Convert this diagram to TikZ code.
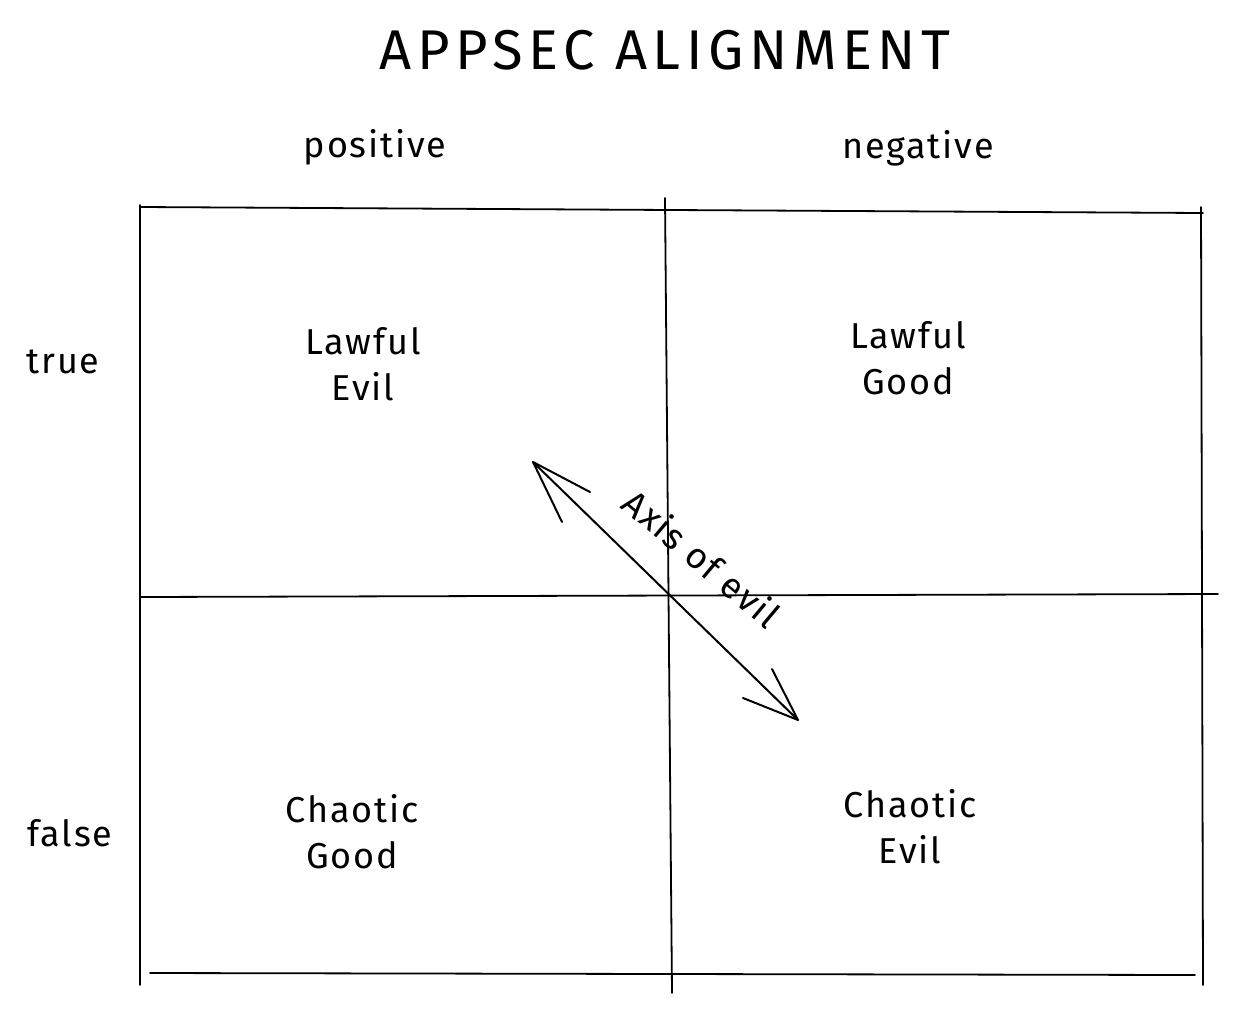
\documentclass[tikz,border=0pt]{standalone}
\usepackage{fontspec}
\setmainfont[LetterSpace=5]{Fira Sans}
\newfontfamily\titlefont[LetterSpace=10]{Fira Sans}
\begin{document}
\begin{tikzpicture}[x=1pt,y=-1pt,
  gridline/.style={line width=1.8pt,line cap=round},
  lbl/.style={font=\fontsize{36}{46}\selectfont,align=center,inner sep=0pt},
  axisline/.style={line width=2pt,line cap=round,line join=round}]
\useasboundingbox (0,0) rectangle (1236,1012);
\node[font=\titlefont\fontsize{56}{60}\selectfont,inner sep=0pt] (title) at (665,50) {APPSEC ALIGNMENT};
\node[lbl] (pos) at (375,147) {positive};
\node[lbl] (neg) at (918,148) {negative};
\node[lbl] (tru) at (63,362) {true};
\node[lbl] (fal) at (70,833) {false};
% grid
\coordinate (tl) at (140,207);
\coordinate (tr) at (1203,213);
\coordinate (lt) at (140,205);
\coordinate (lb) at (140,985);
\coordinate (mt) at (665,198);
\coordinate (mb) at (672,993);
\coordinate (rt) at (1201,207);
\coordinate (rb) at (1203,985);
\coordinate (hl) at (140,597);
\coordinate (hr) at (1218,594);
\coordinate (bl) at (150,973);
\coordinate (br) at (1195,975);
\draw[gridline] (tl) -- (tr);
\draw[gridline] (lt) -- (lb);
\draw[gridline] (mt) -- (mb);
\draw[gridline] (rt) -- (rb);
\draw[gridline] (hl) -- (hr);
\draw[gridline] (bl) -- (br);
% cells
\node[lbl] (le) at (363,364) {Lawful\\Evil};
\node[lbl] (lg) at (908,358) {Lawful\\Good};
\node[lbl] (cg) at (352,832) {Chaotic\\Good};
\node[lbl] (ce) at (910,827) {Chaotic\\Evil};
% axis arrow
\coordinate (a1) at (533,462);
\coordinate (a1b) at (590,492);
\coordinate (a1c) at (562,522);
\coordinate (a2) at (798,720);
\coordinate (a2b) at (772,669);
\coordinate (a2c) at (743,698);
\draw[axisline] (a1) -- (a2);
\draw[axisline] (a1b) -- (a1) -- (a1c);
\draw[axisline] (a2b) -- (a2) -- (a2c);
\node[lbl,rotate=-40] (axis) at (702,558) {Axis of evil};
\end{tikzpicture}
\end{document}
